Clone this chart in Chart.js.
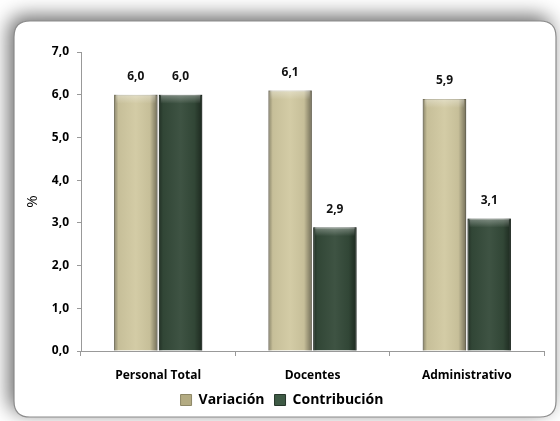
<!DOCTYPE html>
<html>
<head>
<meta charset="utf-8">
<script src="https://cdn.jsdelivr.net/npm/chart.js@4/dist/chart.umd.min.js"></script>
<style>
html,body{margin:0;padding:0;background:#fff;}
#wrap{width:560px;height:421px;position:relative;}
</style>
</head>
<body>
<div id="wrap"><canvas id="c" width="560" height="421"></canvas></div>
<script>
const categories = ["Personal Total", "Docentes", "Administrativo"];
const seriesNames = ["Variación", "Contribución"];
const variacion = [6.0, 6.1, 5.9];
const contribucion = [6.0, 2.9, 3.1];
const yTicks = [0, 1, 2, 3, 4, 5, 6, 7];
const seriesColors = ['#d1c9a1', '#344a39'];
const legendColors = ['#b3ab82', '#3e5a45'];

const fmt = v => v.toFixed(1).replace('.', ',');
const FONT = "'Open Sans', 'Liberation Sans', sans-serif";

const framePlugin = {
  id: 'frame',
  beforeDraw(chart) {
    const ctx = chart.ctx;
    ctx.save();
    ctx.fillStyle = '#ffffff';
    ctx.fillRect(0, 0, chart.width, chart.height);
    const x = 14, y = 21, w = 542, h = 396, r = 16;
    ctx.beginPath();
    ctx.moveTo(x + r, y);
    ctx.lineTo(x + w - r, y);
    ctx.quadraticCurveTo(x + w, y, x + w, y + r);
    ctx.lineTo(x + w, y + h - r);
    ctx.quadraticCurveTo(x + w, y + h, x + w - r, y + h);
    ctx.lineTo(x + r, y + h);
    ctx.quadraticCurveTo(x, y + h, x, y + h - r);
    ctx.lineTo(x, y + r);
    ctx.quadraticCurveTo(x, y, x + r, y);
    ctx.closePath();
    ctx.shadowColor = 'rgba(0,0,0,0.6)';
    ctx.shadowBlur = 20;
    ctx.shadowOffsetX = -5;
    ctx.shadowOffsetY = -5;
    ctx.fillStyle = '#ffffff';
    ctx.fill();
    ctx.shadowColor = 'transparent';
    ctx.strokeStyle = '#8c8c8c';
    ctx.lineWidth = 1.2;
    ctx.stroke();
    ctx.restore();
  }
};

const shadePlugin = {
  id: 'shade',
  afterDatasetsDraw(chart) {
    const ctx = chart.ctx;
    ctx.save();
    chart.data.datasets.forEach((ds, di) => {
      chart.getDatasetMeta(di).data.forEach(bar => {
        const l = bar.x - bar.width / 2, rgt = bar.x + bar.width / 2;
        const top = bar.y, bot = bar.base;
        const g = ctx.createLinearGradient(l, 0, rgt, 0);
        g.addColorStop(0, 'rgba(0,0,0,0.35)');
        g.addColorStop(0.1, 'rgba(0,0,0,0.05)');
        g.addColorStop(0.5, 'rgba(255,255,255,0.05)');
        g.addColorStop(0.82, 'rgba(0,0,0,0.05)');
        g.addColorStop(1, 'rgba(0,0,0,0.45)');
        ctx.fillStyle = g;
        ctx.fillRect(l, top, rgt - l, bot - top);
        const g2 = ctx.createLinearGradient(0, top, 0, top + 9);
        g2.addColorStop(0, 'rgba(255,255,255,0.35)');
        g2.addColorStop(1, 'rgba(255,255,255,0)');
        ctx.fillStyle = g2;
        ctx.fillRect(l + 2, top, rgt - l - 4, 9);
      });
    });
    ctx.restore();
  }
};

const labelPlugin = {
  id: 'vlabels',
  afterDatasetsDraw(chart) {
    const ctx = chart.ctx;
    ctx.save();
    ctx.font = "bold 12px " + FONT;
    ctx.fillStyle = '#111';
    ctx.textAlign = 'center';
    ctx.textBaseline = 'middle';
    chart.data.datasets.forEach((ds, di) => {
      chart.getDatasetMeta(di).data.forEach((bar, i) => {
        ctx.fillText(fmt(ds.data[i]), bar.x, bar.y - 18);
      });
    });
    ctx.restore();
  }
};

new Chart(document.getElementById('c'), {
  type: 'bar',
  data: {
    labels: categories,
    datasets: [
      {
        label: seriesNames[0],
        data: variacion,
        backgroundColor: seriesColors[0],
        borderColor: '#a39d7c',
        borderWidth: 1,
        categoryPercentage: 0.58,
        barPercentage: 0.97
      },
      {
        label: seriesNames[1],
        data: contribucion,
        backgroundColor: seriesColors[1],
        borderColor: '#2a3b2e',
        borderWidth: 1,
        categoryPercentage: 0.58,
        barPercentage: 0.97
      }
    ]
  },
  options: {
    responsive: false,
    animation: false,
    devicePixelRatio: 1,
    layout: { padding: { left: 20, right: 16, top: 52, bottom: 4 } },
    plugins: {
      legend: {
        position: 'bottom',
        labels: {
          font: { family: FONT, size: 14, weight: 'bold' },
          color: '#000',
          boxWidth: 11,
          boxHeight: 11,
          padding: 10,
          generateLabels(chart) {
            return chart.data.datasets.map((ds, i) => ({
              text: ds.label,
              fillStyle: legendColors[i],
              strokeStyle: i === 0 ? '#8d8766' : '#26362a',
              lineWidth: 1,
              hidden: false,
              datasetIndex: i,
              fontColor: '#000'
            }));
          }
        }
      },
      tooltip: { enabled: false }
    },
    scales: {
      x: {
        grid: { display: true, drawOnChartArea: false, offset: true, color: '#999', tickLength: 5 },
        border: { color: '#999' },
        ticks: { font: { family: FONT, size: 12, weight: 'bold' }, color: '#000', padding: 12 },
        afterFit(s) { s.height = 32; }
      },
      y: {
        min: 0, max: 7,
        afterBuildTicks(s) { s.ticks = yTicks.map(v => ({ value: v })); },
        grid: { display: true, drawOnChartArea: false, color: '#999', tickLength: 4 },
        border: { color: '#999' },
        ticks: { font: { family: FONT, size: 12, weight: 'bold' }, color: '#000', padding: 8, callback: v => fmt(v) },
        title: { display: true, text: '%', font: { family: FONT, size: 15 }, color: '#000', padding: 4 },
        afterFit(s) { s.width = 61; }
      }
    }
  },
  plugins: [framePlugin, shadePlugin, labelPlugin]
});
</script>
</body>
</html>
